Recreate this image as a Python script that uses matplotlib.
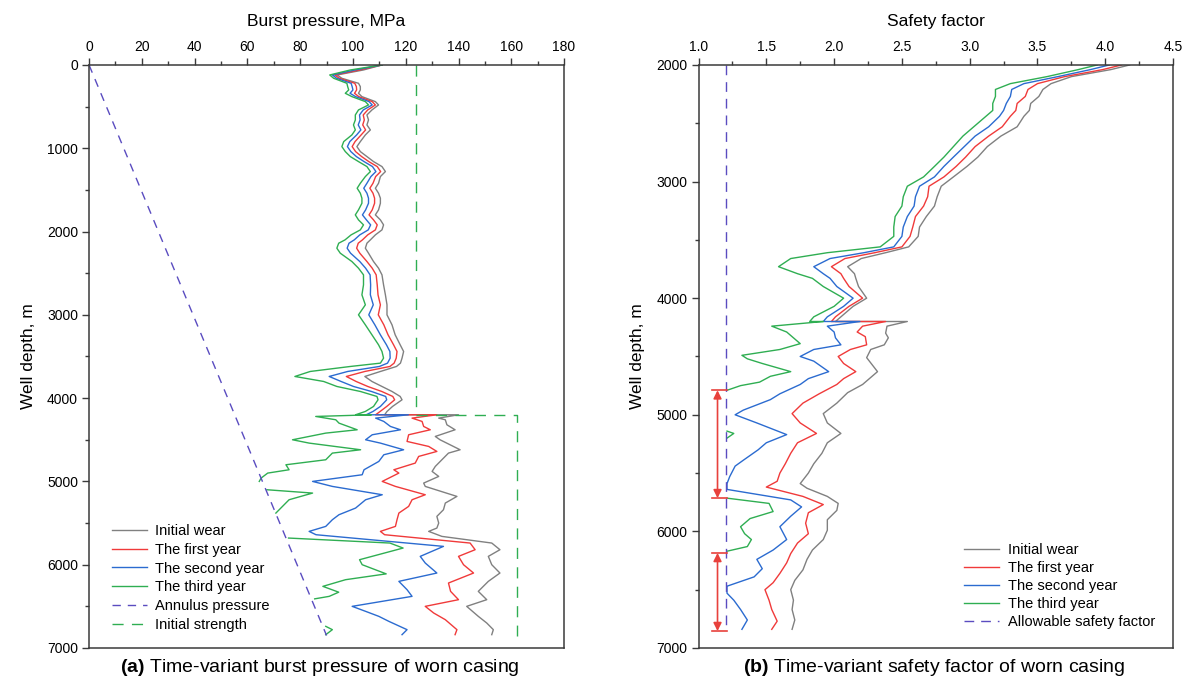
import matplotlib.pyplot as plt
import numpy as np

plt.rcParams['font.family'] = ['Liberation Sans', 'DejaVu Sans']
plt.rcParams['mathtext.fontset'] = 'custom'
plt.rcParams['mathtext.bf'] = 'Liberation Sans:bold'
plt.rcParams['mathtext.rm'] = 'Liberation Sans'

nan = float('nan')

labels = ['Initial wear', 'The first year', 'The second year', 'The third year']
colors = ['#808080', '#f03a3a', '#2b6bd0', '#2fae52']

# ---------------- (a) burst pressure, MPa ----------------
depth_up = [0, 60, 120, 160, 220, 260, 300, 340, 380, 440, 480, 540, 600, 660, 720,
            780, 840, 920, 980, 1040, 1100, 1160, 1220, 1280, 1340, 1420, 1480, 1540,
            1600, 1660, 1740, 1800, 1860, 1920, 1980, 2040, 2100, 2140, 2200, 2260,
            2360, 2440, 2520, 2640, 2760, 2880, 3000, 3120, 3240, 3360, 3440, 3520,
            3580, 3620, 3680, 3740, 3800, 3860, 3920, 3980, 4020, 4100, 4160, 4200]

gray_up = [111, 104, 94, 95.8, 102.1, 102.8, 102.8, 102.1, 103.4, 108.5, 109.7, 107.2,
           105.3, 105.9, 105.3, 106.6, 104.7, 102.8, 101.5, 102.8, 105.3, 107.8, 111,
           112.3, 110.4, 109.7, 108.5, 109.7, 110.4, 110.4, 109.7, 108.5, 110.4, 111.6,
           111, 108.5, 106.6, 105.3, 104.7, 105.9, 107.8, 109.7, 111, 111.6, 112.3,
           112.9, 112.9, 114.8, 116, 117.9, 119.2, 118.6, 118, 116.5, 110.4, 104.5,
           107.2, 111, 114.8, 117.9, 118.6, 115, 112.9, 112]
red_up = [111, 102.5, 93.1, 94.8, 100.7, 101.3, 101.4, 100.6, 102.2, 107.3, 108.5, 105.6,
          103.9, 104.3, 103.7, 104.8, 103.1, 100.8, 99.7, 101, 103.3, 106, 109.2, 110.5,
          108.6, 107.6, 106.4, 107.6, 108.2, 108.2, 107.3, 106.1, 107.8, 109.2, 108.5,
          105.6, 103.6, 102, 101.4, 102.6, 105.3, 107.3, 108.8, 109.2, 109.5, 110.4,
          109.6, 111.7, 113.3, 115.4, 116.7, 116.4, 115.6, 114, 104.5, 97.5, 101.2,
          105.6, 110.9, 115.1, 115.8, 112.8, 110.3, 108.6]
blue_up = [111, 100.8, 92.2, 93.8, 99.3, 99.7, 100, 98.9, 101, 106.1, 107.3, 103.9,
           102.5, 102.7, 102, 103, 101.4, 98.8, 97.9, 99.2, 101.3, 104.2, 107.4, 108.7,
           106.8, 105.3, 104.1, 105.3, 105.9, 105.9, 104.8, 103.6, 105.1, 106.7, 105.8,
           102.6, 100.5, 98.5, 97.8, 99.1, 102.6, 104.8, 106.5, 106.7, 106.6, 107.7,
           106, 108.3, 110.4, 112.7, 114, 114.1, 113.1, 110, 98, 91, 95.5, 100.2, 107,
           112.4, 112.8, 110.4, 107.6, 105]
green_up = [111, 99, 91.2, 92.7, 97.7, 98, 98.4, 97.1, 99.6, 104.7, 105.9, 102.1, 100.9,
            100.9, 100.2, 100.9, 99.6, 96.5, 95.8, 97.1, 99, 102.1, 105.3, 106.6, 104.7,
            102.8, 101.6, 102.8, 103.4, 103.4, 102.1, 100.9, 102.1, 104, 102.8, 99.3, 97,
            94.6, 93.9, 95.2, 99.6, 102.1, 104, 104, 103.4, 104.7, 102.1, 104.7, 107.2,
            109.7, 111, 111.6, 110.4, 99, 83.8, 78, 88.9, 93.9, 102.8, 109.1, 109.5,
            107.8, 104.7, 101]

gray_lo_d = [4200, 4240, 4260, 4320, 4380, 4460, 4500, 4620, 4660, 4740, 4820, 4880,
             4940, 5020, 5060, 5180, 5260, 5340, 5420, 5500, 5560, 5600, 5660, 5740,
             5820, 5900, 6000, 6100, 6200, 6320, 6420, 6500, 6620, 6700, 6780, 6840]
gray_lo = [140, 132.5, 135, 135.6, 138.7, 131.2, 133, 140.6, 136.2, 133.7, 131.2, 130,
           132.5, 126.8, 127.4, 139.4, 135, 134.3, 131.8, 132.5, 131.8, 128.7, 133.7,
           152.6, 155.7, 151.3, 152.6, 155.7, 151.3, 147.5, 150.7, 143.1, 147.5, 150.7,
           153.2, 152.6]
red_lo_d = [4200, 4240, 4280, 4340, 4380, 4440, 4520, 4580, 4640, 4700, 4780, 4860,
            4900, 5000, 5060, 5160, 5220, 5300, 5380, 5460, 5540, 5600, 5640, 5740,
            5820, 5900, 6000, 6100, 6220, 6320, 6420, 6500, 6580, 6660, 6780, 6840]
red_lo = [131.8, 122.4, 126.2, 126.8, 129.3, 121.1, 120.5, 128.7, 131.8, 124.9, 123.6,
          115.5, 117.4, 111.1, 116.1, 127.4, 122.4, 121.1, 117.4, 116.7, 116.1, 110.4,
          112, 144.4, 146.3, 140, 141.9, 145.7, 136.2, 137, 140, 127.4, 130.6, 135,
          139.4, 138.7]
blue_lo_d = [4200, 4240, 4280, 4340, 4380, 4440, 4500, 4540, 4620, 4680, 4760, 4860,
             4920, 5000, 5060, 5160, 5220, 5320, 5400, 5460, 5540, 5600, 5640, 5780,
             5900, 5980, 6100, 6200, 6300, 6380, 6500, 6560, 6620, 6680, 6780, 6840]
blue_lo = [121, 108.6, 111.7, 114.2, 118, 107.3, 104.8, 110.4, 119.2, 111.7, 109.8,
           104.2, 103.5, 84.7, 92.2, 111.1, 104.8, 101, 94.7, 92.2, 89.7, 83.4, 86,
           134.3, 125.5, 127.4, 131.8, 117.4, 120.5, 122.4, 99.7, 104.8, 109.8, 113.6,
           120.5, 118.6]
green_lo_d = [4200, 4220, 4260, 4300, 4380, 4420, 4500, 4540, 4620, 4660, 4740, 4800,
              4860, 4900, 4960, 5000, 5050, 5100, 5140, 5220, 5300, 5380, 5500, 5680,
              5740, 5800, 5940, 6000, 6110, 6180, 6260, 6330, 6380, 6410, 6600, 6740,
              6780, 6840]
green_lo = [107, 85.9, 93.5, 94.7, 101.6, 89.7, 77.1, 83.4, 102.9, 92.2, 89.7, 74.6,
            75.8, 67.7, 65.2, 64.5, nan, 67.4, 84.7, 75.8, 73.3, 70.8, nan, 75.6, 114,
            119, 102.5, 103.5, 112.6, 97.2, 88.6, 94.6, 91, 85.5, nan, 89.7, 92.2, 89.7]

annulus_d = [0, 6850]
annulus_p = [0, 90]
strength_d = [0, 4200, 4200, 6850]
strength_p = [124, 124, 162, 162]

# ---------------- (b) safety factor ----------------
sf_depth_up = [2000, 2040, 2100, 2160, 2210, 2270, 2330, 2390, 2440, 2530, 2610, 2700,
               2790, 2870, 2960, 3040, 3130, 3210, 3300, 3390, 3470, 3560, 3610, 3660,
               3730, 3790, 3830, 3900, 4000, 4070, 4160, 4200]
sf_gray_up = [4.18, 4.04, 3.75, 3.60, 3.54, 3.51, 3.45, 3.44, 3.40, 3.35, 3.23, 3.13,
              3.06, 2.98, 2.88, 2.79, 2.76, 2.74, 2.68, 2.63, 2.62, 2.55, 2.38, 2.20,
              2.10, 2.15, 2.16, 2.18, 2.24, 2.14, 2.05, 2.01]
sf_red_up = [4.12, 3.98, 3.70, 3.50, 3.43, 3.41, 3.35, 3.34, 3.30, 3.24, 3.14, 3.04,
             2.97, 2.90, 2.81, 2.70, 2.69, 2.66, 2.60, 2.58, 2.56, 2.50, 2.30, 2.08,
             1.98, 2.05, 2.07, 2.11, 2.21, 2.11, 2.01, 1.98]
sf_blue_up = [4.03, 3.89, 3.65, 3.40, 3.31, 3.30, 3.27, 3.25, 3.22, 3.14, 3.04, 2.96,
              2.88, 2.81, 2.74, 2.63, 2.60, 2.59, 2.54, 2.51, 2.50, 2.44, 2.22, 1.97,
              1.85, 1.92, 1.97, 2.02, 2.14, 2.07, 1.95, 1.92]
sf_green_up = [3.94, 3.80, 3.57, 3.30, 3.19, 3.19, 3.17, 3.17, 3.12, 3.03, 2.95, 2.88,
               2.81, 2.74, 2.66, 2.54, 2.51, 2.50, 2.45, 2.44, 2.44, 2.34, 1.95, 1.68,
               1.59, 1.73, 1.84, 1.92, 2.07, 2.00, 1.85, 1.82]

sf_gray_lo_d = [4200, 4240, 4300, 4340, 4400, 4440, 4510, 4570, 4630, 4690, 4740, 4810,
                4900, 4990, 5070, 5160, 5240, 5330, 5420, 5500, 5590, 5630, 5700, 5760,
                5820, 5900, 5990, 6070, 6160, 6240, 6330, 6420, 6500, 6590, 6670, 6760,
                6840]
sf_gray_lo = [2.54, 2.39, 2.38, 2.40, 2.37, 2.27, 2.24, 2.28, 2.32, 2.26, 2.21, 2.10,
              2.02, 1.92, 1.95, 2.05, 1.95, 1.91, 1.85, 1.81, 1.75, 1.80, 1.95, 2.03,
              2.02, 1.95, 1.95, 1.92, 1.84, 1.80, 1.77, 1.71, 1.68, 1.70, 1.69, 1.71, 1.69]
sf_red_lo_d = [4200, 4240, 4290, 4330, 4400, 4440, 4500, 4560, 4630, 4690, 4740, 4820,
               4900, 4990, 5070, 5160, 5240, 5330, 5420, 5500, 5570, 5620, 5700, 5770,
               5840, 5930, 6020, 6100, 6190, 6270, 6360, 6440, 6500, 6590, 6670, 6770,
               6840]
sf_red_lo = [2.38, 2.21, 2.17, 2.23, 2.24, 2.12, 2.03, 2.07, 2.16, 2.07, 2.02, 1.89,
             1.77, 1.69, 1.75, 1.87, 1.73, 1.68, 1.64, 1.60, 1.58, 1.50, 1.77, 1.92,
             1.81, 1.79, 1.81, 1.73, 1.68, 1.65, 1.60, 1.55, 1.49, 1.52, 1.54, 1.58, 1.54]
sf_blue_lo_d = [4200, 4240, 4290, 4340, 4400, 4440, 4500, 4540, 4630, 4690, 4740, 4820,
                4870, 4960, 5000, 5070, 5170, 5240, 5300, 5390, 5440, 5530, 5590, 5640,
                5730, 5790, 5870, 5960, 6070, 6160, 6240, 6320, 6390, 6470, 6530, 6590,
                6670, 6760, 6840]
sf_blue_lo = [2.19, 1.95, 2.00, 2.01, 2.05, 1.85, 1.75, 1.85, 1.96, 1.81, 1.75, 1.60,
              1.53, 1.33, 1.27, 1.43, 1.65, 1.50, 1.44, 1.33, 1.27, 1.23, 1.21, 1.21,
              1.68, 1.76, 1.68, 1.60, 1.65, 1.55, 1.43, 1.47, 1.41, 1.21, 1.21, 1.26,
              1.31, 1.36, 1.32]
sf_green_lo_d = [4200, 4240, 4290, 4330, 4390, 4440, 4490, 4520, 4560, 4630, 4670, 4720,
                 4750, 4790, 4800, 5140, 5160, 5200, 5300, 5715, 5760, 5830, 5890, 5960,
                 6020, 6070, 6130, 6170]
sf_green_lo = [1.92, 1.54, 1.65, 1.69, 1.75, 1.60, 1.32, 1.36, 1.47, 1.68, 1.53, 1.45,
               1.31, 1.21, nan, 1.21, 1.26, 1.21, nan, 1.21, 1.52, 1.55, 1.38, 1.31,
               1.34, 1.39, 1.36, 1.21]

allow_sf = 1.2
allow_d = [2000, 6850]
# red double arrows marking where the third year falls below the allowable value
arrow_sf = 1.14
arrow_spans = [(4790, 5715), (6185, 6855)]

left_series = [(depth_up + gray_lo_d, gray_up + gray_lo),
               (depth_up + red_lo_d, red_up + red_lo),
               (depth_up + blue_lo_d, blue_up + blue_lo),
               (depth_up + green_lo_d, green_up + green_lo)]
right_series = [(sf_depth_up + sf_gray_lo_d, sf_gray_up + sf_gray_lo),
                (sf_depth_up + sf_red_lo_d, sf_red_up + sf_red_lo),
                (sf_depth_up + sf_blue_lo_d, sf_blue_up + sf_blue_lo),
                (sf_depth_up + sf_green_lo_d, sf_green_up + sf_green_lo)]

purple = '#5a4cc0'
spine_c = '#3a3a3a'


def style_axis(ax, xlim, ylim, xmaj, xmin, ymaj, ymin, xfmt):
    ax.set_xlim(*xlim)
    ax.set_ylim(*ylim)
    ax.xaxis.tick_top()
    ax.xaxis.set_label_position('top')
    ax.set_xticks(np.arange(xlim[0], xlim[1] + 1e-9, xmaj))
    ax.set_xticks(np.arange(xlim[0], xlim[1] + 1e-9, xmin), minor=True)
    ax.set_xticklabels([xfmt % v for v in np.arange(xlim[0], xlim[1] + 1e-9, xmaj)])
    ax.set_yticks(np.arange(ylim[1], ylim[0] + 1, ymaj))
    ax.set_yticks(np.arange(ylim[1], ylim[0] + 1, ymin), minor=True)
    for s in ax.spines.values():
        s.set_linewidth(1.1)
        s.set_color(spine_c)
    ax.tick_params(which='both', direction='out', top=True, bottom=False,
                   left=True, right=False, color=spine_c, width=1.0)
    ax.tick_params(which='major', length=5, labelsize=10, pad=3)
    ax.tick_params(which='minor', length=3)


fig = plt.figure(figsize=(11.89, 6.86), dpi=100)
ax1 = fig.add_axes([0.0749, 0.0554, 0.3995, 0.8499])
ax2 = fig.add_axes([0.5875, 0.0554, 0.3991, 0.8499])

# panel (a)
for (d, v), c, lab in zip(left_series, colors, labels):
    ax1.plot(v, d, color=c, lw=1.0, label=lab)
ax1.plot(annulus_p, annulus_d, color=purple, lw=1.0, dashes=(6, 5), label='Annulus pressure')
ax1.plot(strength_p, strength_d, color=colors[3], lw=1.0, dashes=(8, 6), label='Initial strength')
style_axis(ax1, (0, 180), (7000, 0), 20, 10, 1000, 500, '%d')
ax1.set_xlabel('Burst pressure, MPa', fontsize=12.5, labelpad=10)
ax1.set_ylabel('Well depth, m', fontsize=12.5, labelpad=8)
ax1.legend(loc='lower left', bbox_to_anchor=(0.02, 0.005), frameon=False, fontsize=10.5,
           handlelength=2.4, handletextpad=0.6, labelspacing=0.33)

# panel (b)
for (d, v), c, lab in zip(right_series, colors, labels):
    ax2.plot(v, d, color=c, lw=1.0, label=lab)
ax2.plot([allow_sf, allow_sf], allow_d, color=purple, lw=1.0, dashes=(7, 5),
         label='Allowable safety factor')
for top, bot in arrow_spans:
    ax2.annotate('', xy=(arrow_sf, top), xytext=(arrow_sf, bot),
                 arrowprops=dict(arrowstyle='<|-|>', color='#e8413c', lw=1.2,
                                 mutation_scale=12, shrinkA=0, shrinkB=0))
    for yy in (top, bot):
        ax2.plot([1.10, 1.21], [yy, yy], color='#e8413c', lw=1.2)
style_axis(ax2, (1.0, 4.5), (7000, 2000), 0.5, 0.25, 1000, 500, '%.1f')
ax2.set_xlabel('Safety factor', fontsize=12.5, labelpad=10)
ax2.set_ylabel('Well depth, m', fontsize=12.5, labelpad=8)
ax2.legend(loc='lower right', bbox_to_anchor=(0.99, 0.01), frameon=False, fontsize=10.5,
           handlelength=2.4, handletextpad=0.6, labelspacing=0.28)

fig.text(320 / 1189, 1 - 668 / 686, r'$\bf{(a)}$ Time-variant burst pressure of worn casing',
         ha='center', va='center', fontsize=14)
fig.text(934 / 1189, 1 - 668 / 686, r'$\bf{(b)}$ Time-variant safety factor of worn casing',
         ha='center', va='center', fontsize=14)

fig.savefig('out.png', dpi=100)
